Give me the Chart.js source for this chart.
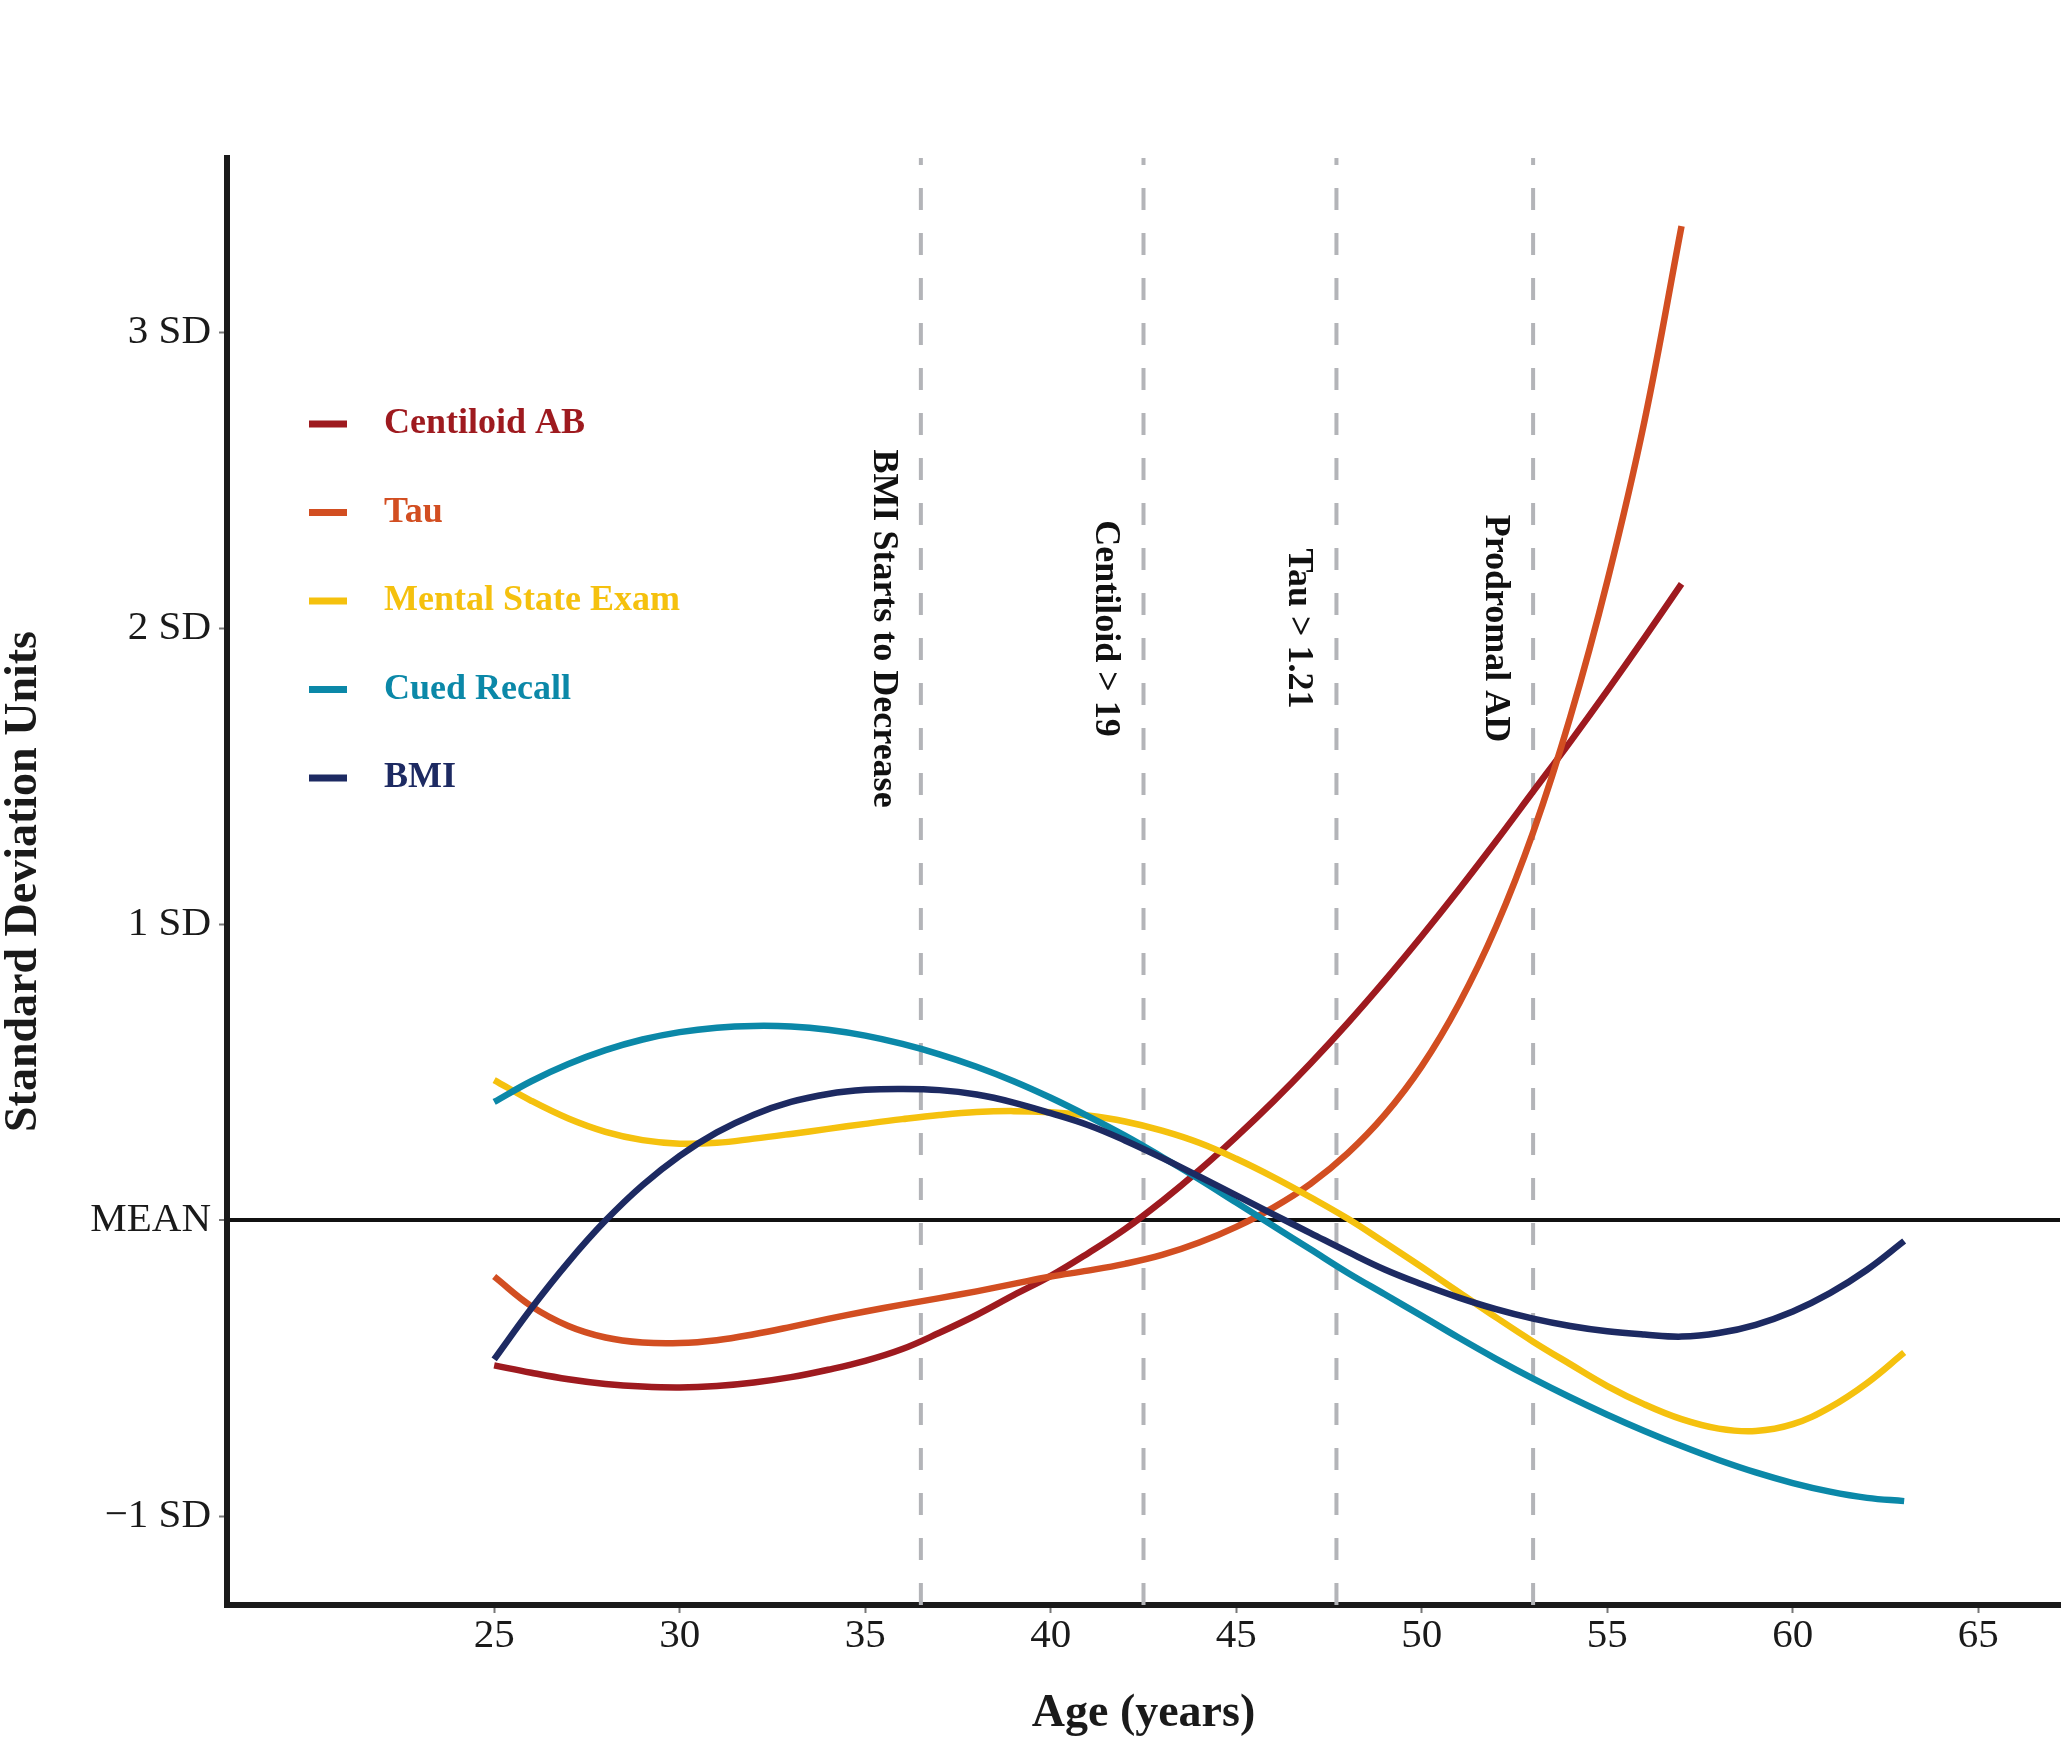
<!DOCTYPE html>
<html lang="en">
<head>
<meta charset="UTF-8">
<title>Biomarker trajectories by age</title>
<script src="https://cdn.jsdelivr.net/npm/chart.js"></script>
<style>
  html, body { margin: 0; padding: 0; background: #ffffff; }
  #wrap { width: 2070px; height: 1747px; }
</style>
</head>
<body>

<div id="wrap"><canvas id="myChart" width="2070" height="1747"></canvas></div>

<script>
// ages on the x axis, one point per year
const ages = [25, 26, 27, 28, 29, 30, 31, 32, 33, 34, 35, 36, 37, 38, 39, 40, 41, 42, 43, 44,
              45, 46, 47, 48, 49, 50, 51, 52, 53, 54, 55, 56, 57, 58, 59, 60, 61, 62, 63];

// SD units (centiloid and tau stop at 57)
const centiloid = [-0.49, -0.515, -0.537, -0.553, -0.562, -0.565, -0.56, -0.548, -0.53, -0.505,
                   -0.475, -0.435, -0.38, -0.32, -0.253, -0.188, -0.112, -0.03, 0.065, 0.169,
                   0.282, 0.402, 0.53, 0.666, 0.81, 0.961, 1.118, 1.281, 1.449, 1.617, 1.79, 1.968, 2.151];
const tau = [-0.19, -0.29, -0.357, -0.396, -0.413, -0.415, -0.405, -0.385, -0.36, -0.333,
             -0.308, -0.285, -0.263, -0.24, -0.215, -0.19, -0.17, -0.147, -0.117, -0.075,
             -0.022, 0.043, 0.123, 0.226, 0.356, 0.521, 0.731, 0.991, 1.311, 1.70, 2.16, 2.70, 3.36];
const mentalState = [0.474, 0.404, 0.344, 0.299, 0.271, 0.259, 0.262, 0.276, 0.292, 0.309,
                     0.326, 0.342, 0.356, 0.366, 0.369, 0.365, 0.354, 0.334, 0.303, 0.262,
                     0.208, 0.146, 0.078, 0.006, -0.075, -0.158, -0.243, -0.328, -0.41, -0.486,
                     -0.56, -0.622, -0.672, -0.704, -0.712, -0.689, -0.632, -0.55, -0.447];
const cuedRecall = [0.40, 0.47, 0.528, 0.575, 0.611, 0.636, 0.651, 0.657, 0.655, 0.644,
                    0.624, 0.596, 0.561, 0.519, 0.47, 0.414, 0.352, 0.286, 0.214, 0.139,
                    0.06, -0.019, -0.098, -0.177, -0.25, -0.323, -0.397, -0.468, -0.535, -0.598,
                    -0.657, -0.712, -0.763, -0.81, -0.852, -0.888, -0.917, -0.938, -0.949];
const bmi = [-0.47, -0.298, -0.141, -0.001, 0.119, 0.218, 0.297, 0.357, 0.40, 0.427,
             0.441, 0.444, 0.44, 0.425, 0.398, 0.362, 0.322, 0.27, 0.211, 0.148,
             0.084, 0.02, -0.043, -0.106, -0.166, -0.216, -0.261, -0.30, -0.332, -0.357,
             -0.375, -0.386, -0.393, -0.381, -0.353, -0.308, -0.246, -0.167, -0.07];

const seriesNames = ['Centiloid AB', 'Tau', 'Mental State Exam', 'Cued Recall', 'BMI'];
const seriesValues = [centiloid, tau, mentalState, cuedRecall, bmi];
const seriesColors = ['#9e1a1f', '#d24e21', '#f5c10e', '#0b88a8', '#1d2a62'];

const milestoneAges = [36.5, 42.5, 47.7, 53.0];
const milestoneNames = ['BMI Starts to Decrease', 'Centiloid > 19', 'Tau > 1.21', 'Prodromal AD'];

const xTicks = [25, 30, 35, 40, 45, 50, 55, 60, 65];
const yTicks = [-1, 0, 1, 2, 3];
const yTickLabels = ['\u22121 SD', 'MEAN', '1 SD', '2 SD', '3 SD'];
const xMin = 17.8, xMax = 67.2, yMin = -1.3, yMax = 3.59;

const serif = '"Liberation Serif", "Times New Roman", serif';
const ink = '#1a1a1a';

// curves: later legend entries sit on top
const curveSets = seriesValues.map((vals, i) => ({
  label: seriesNames[i],
  data: vals.map((v, j) => ({ x: ages[j], y: v })),
  borderColor: seriesColors[i],
  borderWidth: 6.5,
  pointRadius: 0,
  fill: false,
  tension: 0.4,
  order: seriesNames.length - i
}));

const milestoneSets = milestoneAges.map((a, i) => ({
  label: milestoneNames[i],
  data: [{ x: a, y: yMin }, { x: a, y: yMax }],
  borderColor: '#b3b4b8',
  borderWidth: 4,
  borderDash: [22, 23],
  pointRadius: 0,
  fill: false,
  order: 20
}));

const annotate = {
  id: 'annotate',
  afterDatasetsDraw(chart) {
    const { ctx, scales: { x, y } } = chart;
    ctx.save();

    // milestone labels, rotated, centred on 2 SD
    ctx.font = 'bold 36px ' + serif;
    ctx.fillStyle = '#111';
    ctx.textAlign = 'center';
    ctx.textBaseline = 'middle';
    milestoneAges.forEach((a, i) => {
      ctx.save();
      ctx.translate(x.getPixelForValue(a) - 38, y.getPixelForValue(2));
      ctx.rotate(Math.PI / 2);
      ctx.fillText(milestoneNames[i], 0, 0);
      ctx.restore();
    });

    // legend
    ctx.textAlign = 'left';
    seriesNames.forEach((name, i) => {
      const ly = 424 + i * 88.5;
      ctx.strokeStyle = seriesColors[i];
      ctx.lineWidth = 7;
      ctx.beginPath();
      ctx.moveTo(309, ly);
      ctx.lineTo(347, ly);
      ctx.stroke();
      ctx.fillStyle = seriesColors[i];
      ctx.fillText(name, 384, ly);
    });
    ctx.restore();
  }
};

const ctx = document.getElementById('myChart').getContext('2d');
new Chart(ctx, {
  type: 'line',
  data: { datasets: milestoneSets.concat(curveSets) },
  options: {
    responsive: false,
    animation: false,
    devicePixelRatio: 1,
    layout: { padding: { left: 0, top: 158, right: 10, bottom: 0 } },
    plugins: { legend: { display: false }, tooltip: { enabled: false } },
    scales: {
      x: {
        type: 'linear',
        min: xMin,
        max: xMax,
        afterBuildTicks: s => { s.ticks = xTicks.map(v => ({ value: v })); },
        afterFit: s => { s.height = 142; },
        border: { display: true, color: ink, width: 6 },
        grid: { drawOnChartArea: false, drawTicks: true, tickLength: 8, tickColor: '#777', tickWidth: 2 },
        ticks: {
          autoSkip: false, maxRotation: 0, padding: 3, color: ink,
          font: { family: serif, size: 41, lineHeight: 1 }
        },
        title: {
          display: true, text: 'Age (years)', color: ink,
          font: { family: serif, size: 46, weight: 'bold', lineHeight: 1 },
          padding: { top: 0, bottom: 10 }
        }
      },
      y: {
        type: 'linear',
        min: yMin,
        max: yMax,
        afterBuildTicks: s => { s.ticks = yTicks.map(v => ({ value: v })); },
        afterFit: s => { s.width = 227; },
        border: { display: true, color: ink, width: 6 },
        grid: {
          drawOnChartArea: true,
          color: c => (c.tick && c.tick.value === 0) ? '#111' : 'rgba(0,0,0,0)',
          lineWidth: c => (c.tick && c.tick.value === 0) ? 4 : 1,
          drawTicks: true, tickLength: 8, tickColor: '#777', tickWidth: 2
        },
        ticks: {
          padding: 8, color: ink,
          font: { family: serif, size: 41, lineHeight: 1 },
          callback: v => { const i = yTicks.indexOf(v); return i >= 0 ? yTickLabels[i] : ''; }
        },
        title: {
          display: true, text: 'Standard Deviation Units', color: ink,
          font: { family: serif, size: 46, weight: 'bold', lineHeight: 1 },
          padding: { top: 1, bottom: 0 }
        }
      }
    }
  },
  plugins: [annotate]
});
</script>

</body>
</html>
